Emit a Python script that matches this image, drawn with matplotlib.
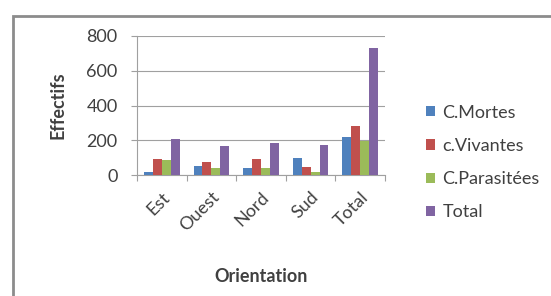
import numpy as np
import matplotlib.pyplot as plt
import matplotlib.patches as mpatches

# ── Data ─────────────────────────────────────────────
CATEGORIES = ['Est', 'Ouest', 'Nord', 'Sud', 'Total']
SERIES = ['C.Mortes', 'c.Vivantes', 'C.Parasitées', 'Total']
MORTES = [20, 54, 38, 100, 220]
VIVANTES = [92, 73, 92, 44, 284]
PARASITEES = [86, 38, 38, 19, 196]
TOTAL = [205, 169, 182, 173, 729]
COLORS = ['#4F81BD', '#C0504D', '#9BBB59', '#8064A2']

plt.rcParams['font.family'] = ['Lato', 'DejaVu Sans']
FS = 13

fig = plt.figure(figsize=(5.51, 2.96), dpi=100)
fig.patch.set_facecolor('white')

# outer chart frame (Excel style)
frame = mpatches.Rectangle((13 / 551, -0.05), 1.0, 1 - 16 / 296 + 0.05,
                           transform=fig.transFigure, fill=False,
                           edgecolor='#8c8c8c', linewidth=2.0)
fig.add_artist(frame)

ax = fig.add_axes([137 / 551, 1 - 175 / 296, (385 - 137) / 551, (175 - 36) / 296])

x = np.arange(len(CATEGORIES))
width = 0.18
values = [MORTES, VIVANTES, PARASITEES, TOTAL]
for i, (vals, name, col) in enumerate(zip(values, SERIES, COLORS)):
    ax.bar(x + (i - 1.5) * width, vals, width, color=col, label=name, zorder=3)

ax.set_xlim(-0.5, len(CATEGORIES) - 0.5)
ax.set_ylim(0, 800)
ax.set_yticks([0, 200, 400, 600, 800])
ax.yaxis.grid(True, color='#a0a0a0', linewidth=0.8, zorder=0)

for s in ['top', 'right']:
    ax.spines[s].set_visible(False)
ax.spines['left'].set_color('#a0a0a0')
ax.spines['bottom'].set_color('#a0a0a0')

ax.tick_params(axis='y', length=4, color='#a0a0a0', labelsize=FS, pad=10,
               labelcolor='#404040', direction='out')
ax.set_xticks(np.arange(-0.5, len(CATEGORIES), 1.0), minor=False)
ax.set_xticklabels([])
ax.tick_params(axis='x', length=4, color='#a0a0a0', direction='out')
ax.set_xticks(x, minor=True)
ax.set_xticklabels(CATEGORIES, minor=True, rotation=45, ha='right',
                   rotation_mode='anchor', fontsize=FS, color='#404040')
ax.tick_params(axis='x', which='minor', length=0, pad=10)

ax.set_ylabel('Effectifs', fontsize=FS, fontweight='bold', color='#404040', labelpad=14)
ax.set_xlabel('Orientation', fontsize=FS, fontweight='bold', color='#404040', labelpad=24)

ax.legend(loc='center left', bbox_to_anchor=(1.1, 0.09), frameon=False,
          fontsize=FS, handlelength=0.5, handleheight=0.5, handletextpad=0.4,
          labelspacing=0.95, labelcolor='#404040')

fig.savefig('out.png', dpi=100, facecolor='white')
